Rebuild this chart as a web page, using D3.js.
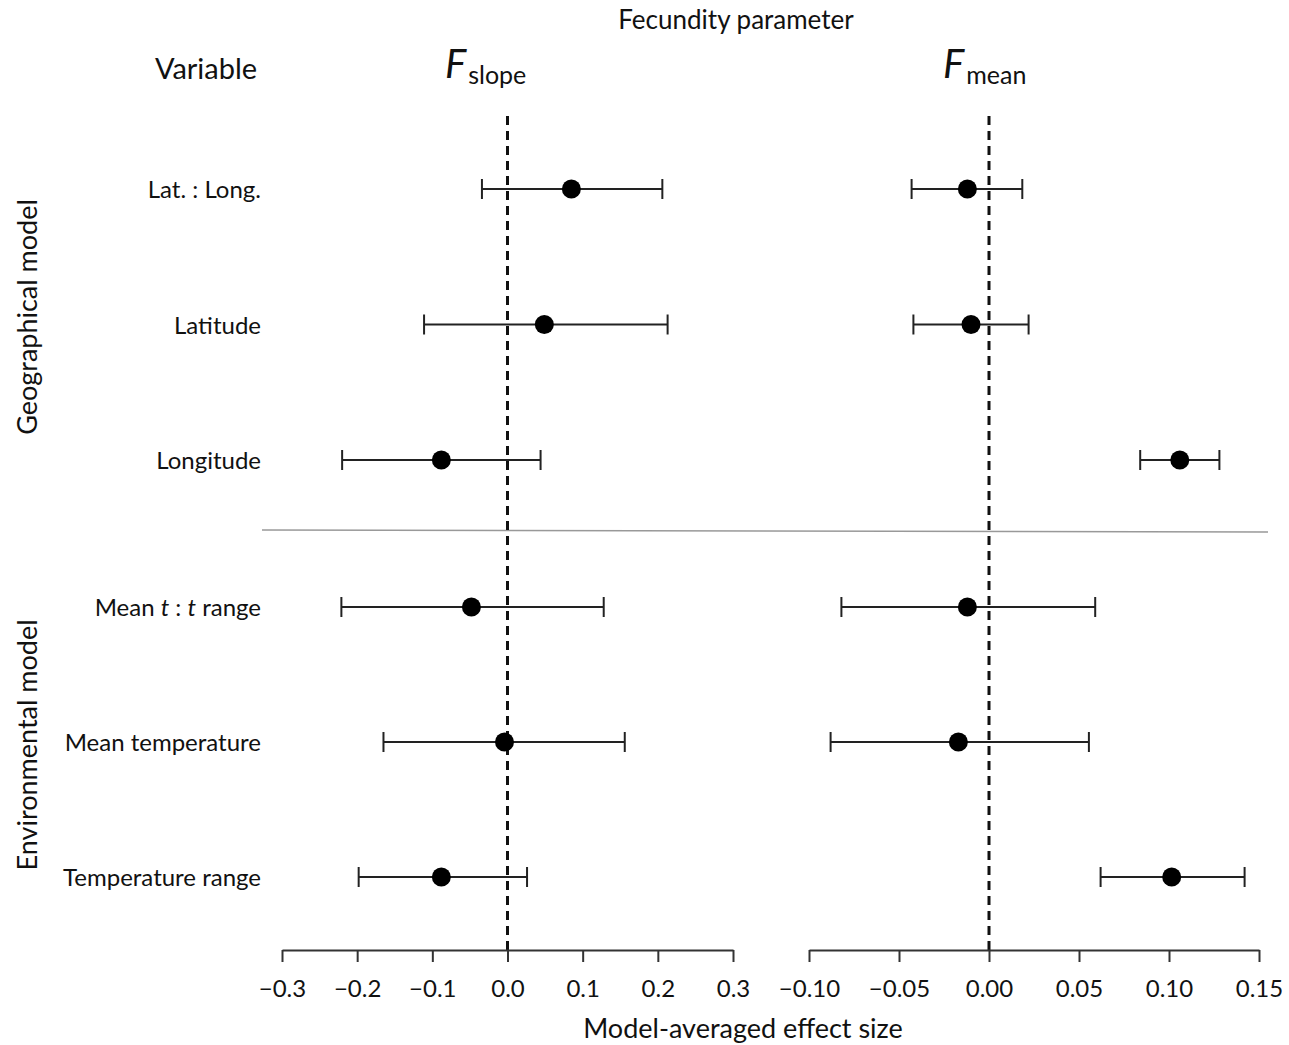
<!DOCTYPE html>
<html>
<head>
<meta charset="utf-8">
<script src="https://cdn.jsdelivr.net/npm/d3@7"></script>
<style>
  body { margin: 0; background: #fff; }
  text { font-family: Lato, "Open Sans", sans-serif; fill: #111; }
</style>
</head>
<body>
<svg width="1289" height="1045"></svg>
<script>
// variables, top to bottom
var geoVars = ['Lat. : Long.', 'Latitude', 'Longitude'];
var envVars = ['Mean t : t range', 'Mean temperature', 'Temperature range'];
var variables = geoVars.concat(envVars);

// F slope estimates and intervals
var slopeEst = [0.085, 0.049, -0.088, -0.048, -0.004, -0.088];
var slopeLo  = [-0.034, -0.111, -0.220, -0.221, -0.165, -0.198];
var slopeHi  = [0.206, 0.213, 0.044, 0.128, 0.156, 0.026];

// F mean estimates and intervals
var meanEst = [-0.012, -0.010, 0.106, -0.012, -0.017, 0.1015];
var meanLo  = [-0.043, -0.042, 0.084, -0.082, -0.088, 0.062];
var meanHi  = [0.0185, 0.022, 0.128, 0.059, 0.0555, 0.142];

var slopeTicks = [-0.3, -0.2, -0.1, 0, 0.1, 0.2, 0.3];
var meanTicks = [-0.10, -0.05, 0, 0.05, 0.10, 0.15];

var svg = d3.select('svg');

var xSlope = d3.scaleLinear().domain([-0.3, 0.3]).range([282, 733]);
var xMean = d3.scaleLinear().domain([-0.10, 0.15]).range([809, 1259]);

var yGeo = d3.scalePoint().domain(geoVars).range([189, 460]);
var yEnv = d3.scalePoint().domain(envVars).range([607, 877]);
function y(v) { return geoVars.indexOf(v) >= 0 ? yGeo(v) : yEnv(v); }

// titles
svg.append('text').attr('x', 736).attr('y', 29).attr('text-anchor', 'middle')
  .style('font-size', '26px').text('Fecundity parameter');
svg.append('text').attr('x', 206).attr('y', 79).attr('text-anchor', 'middle')
  .style('font-size', '29px').text('Variable');

function fLabel(x, sub) {
  var t = svg.append('text').attr('x', x).attr('y', 78);
  t.append('tspan').style('font-size', '40px').style('font-style', 'italic').text('F');
  t.append('tspan').attr('dx', 2).attr('dy', 6).style('font-size', '25px').text(sub);
}
fLabel(445, 'slope');
fLabel(943, 'mean');

// group labels
svg.append('text').attr('transform', 'translate(37,317) rotate(-90)')
  .attr('text-anchor', 'middle').style('font-size', '27px').text('Geographical model');
svg.append('text').attr('transform', 'translate(37,745) rotate(-90)')
  .attr('text-anchor', 'middle').style('font-size', '27px').text('Environmental model');

// row labels
var rowLab = svg.append('g').selectAll('text').data(variables).enter().append('text')
  .attr('x', 261).attr('y', function(d) { return y(d) + 9; })
  .attr('text-anchor', 'end').style('font-size', '24px');
rowLab.each(function(d) {
  var t = d3.select(this);
  if (d === 'Mean t : t range') {
    t.append('tspan').text('Mean ');
    t.append('tspan').style('font-style', 'italic').text('t');
    t.append('tspan').text(' : ');
    t.append('tspan').style('font-style', 'italic').text('t');
    t.append('tspan').text(' range');
  } else {
    t.text(d);
  }
});

// separator
svg.append('line').attr('x1', 262).attr('x2', 1268).attr('y1', 530).attr('y2', 532)
  .attr('stroke', '#999').attr('stroke-width', 1.5);

// zero lines
[xSlope, xMean].forEach(function(x) {
  svg.append('line').attr('x1', x(0)).attr('x2', x(0)).attr('y1', 116).attr('y2', 950)
    .attr('stroke', '#111').attr('stroke-width', 3).attr('stroke-dasharray', '9,6');
});

// axes
function drawAxis(x, ticks, fmt, yPos) {
  var ax = d3.axisBottom(x).tickValues(ticks).tickFormat(d3.format(fmt))
    .tickSizeOuter(0).tickSizeInner(12).tickPadding(18);
  var g = svg.append('g').attr('transform', 'translate(0,' + yPos + ')').call(ax);
  g.select('.domain').attr('stroke', '#333').attr('stroke-width', 2);
  g.selectAll('.tick line').attr('stroke', '#333').attr('stroke-width', 2);
  g.selectAll('.tick text').style('font-size', '24px').style('font-family', 'Lato, sans-serif').attr('fill', '#111');
}
drawAxis(xSlope, slopeTicks, '.1f', 950);
drawAxis(xMean, meanTicks, '.2f', 950);

svg.append('text').attr('x', 743).attr('y', 1038).attr('text-anchor', 'middle')
  .style('font-size', '27px').text('Model-averaged effect size');

// error bars and points
function drawPanel(x, est, lo, hi) {
  var rows = variables.map(function(v, i) { return { v: v, e: est[i], lo: lo[i], hi: hi[i] }; });
  var g = svg.append('g');
  g.selectAll('.bar').data(rows).enter().append('line')
    .attr('x1', function(d) { return x(d.lo); }).attr('x2', function(d) { return x(d.hi); })
    .attr('y1', function(d) { return y(d.v); }).attr('y2', function(d) { return y(d.v); })
    .attr('stroke', '#222').attr('stroke-width', 2);
  ['lo', 'hi'].forEach(function(k) {
    g.selectAll('.cap' + k).data(rows).enter().append('line')
      .attr('x1', function(d) { return x(d[k]); }).attr('x2', function(d) { return x(d[k]); })
      .attr('y1', function(d) { return y(d.v) - 10; }).attr('y2', function(d) { return y(d.v) + 10; })
      .attr('stroke', '#222').attr('stroke-width', 2);
  });
  g.selectAll('circle').data(rows).enter().append('circle')
    .attr('cx', function(d) { return x(d.e); }).attr('cy', function(d) { return y(d.v); })
    .attr('r', 9.5).attr('fill', '#000');
}
drawPanel(xSlope, slopeEst, slopeLo, slopeHi);
drawPanel(xMean, meanEst, meanLo, meanHi);
</script>
</body>
</html>
